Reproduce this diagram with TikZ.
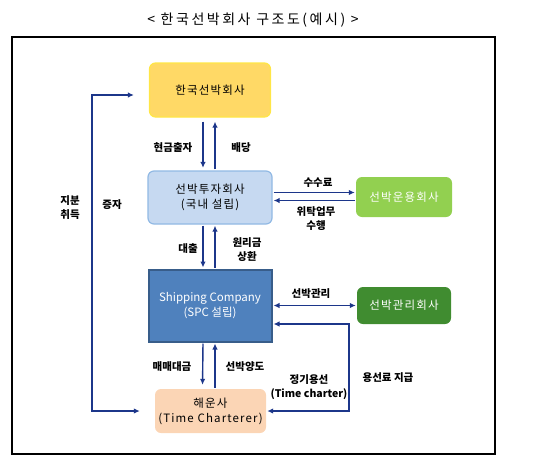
\documentclass[tikz,border=0pt]{standalone}
\usepackage{fontspec}
\setmainfont{Noto Sans CJK KR}
\newfontfamily\boxfont[LetterSpace=10]{Noto Sans CJK KR}
\newfontfamily\titlefont[LetterSpace=18]{Noto Sans CJK KR}
\usetikzlibrary{arrows.meta}
\definecolor{navy}{RGB}{28,54,138}
\definecolor{kfill}{RGB}{255,217,102}
\definecolor{kdraw}{RGB}{255,230,70}
\definecolor{invfill}{RGB}{198,217,241}
\definecolor{invdraw}{RGB}{145,185,228}
\definecolor{opsfill}{RGB}{146,208,80}
\definecolor{spcfill}{RGB}{79,129,189}
\definecolor{spcdraw}{RGB}{56,93,138}
\definecolor{mgfill}{RGB}{64,140,48}
\definecolor{haefill}{RGB}{251,213,181}
\begin{document}
\begin{tikzpicture}[x=1pt,y=-1pt,
  conn/.style={draw=navy, line width=1.4pt, -{Latex[length=6pt,width=5.5pt]}},
  conn2/.style={draw=navy, line width=1.4pt, {Latex[length=6pt,width=5.5pt]}-{Latex[length=6pt,width=5.5pt]}},
  boxbase/.style={inner sep=0pt, align=center, font=\boxfont\fontsize{11.5}{15}\selectfont},
  rbox/.style={boxbase, rounded corners=6pt},
  lbl/.style={inner sep=0pt, align=center, font=\fontsize{10.5}{14}\selectfont\bfseries}]
\useasboundingbox (0,0) rectangle (535,466);
\node[font=\titlefont\fontsize{14}{16}\selectfont, inner sep=0pt] (title) at (253,20) {< 한국선박회사 구조도(예시) >};
\draw[line width=1.1pt] (12,37) rectangle (495,454);
% boxes
\node[rbox, fill=kfill, draw=kdraw, line width=1.2pt, minimum width=121pt, minimum height=54pt] (k) at (210,90) {한국선박회사};
\node[rbox, fill=invfill, draw=invdraw, line width=1.2pt, minimum width=124pt, minimum height=53pt] (inv) at (210,197.5) {선박투자회사\\(국내 설립)};
\node[rbox, fill=opsfill, text=white, minimum width=96pt, minimum height=40pt] (ops) at (404,197) {선박운용회사};
\node[boxbase, font=\fontsize{11.5}{15}\selectfont, fill=spcfill, draw=spcdraw, line width=2pt, text=white, minimum width=123pt, minimum height=72pt] (spc) at (210,305.5) {Shipping Company\\(SPC 설립)};
\node[rbox, fill=mgfill, text=white, minimum width=94pt, minimum height=37pt] (mg) at (404,305.5) {선박관리회사};
\node[rbox, fill=haefill, minimum width=111pt, minimum height=44pt] (hae) at (210.5,411) {해운사\\(Time Charterer)};
% vertical arrows
\draw[conn, shorten <=4pt, shorten >=2.5pt] ([xshift=-7pt]k.south) -- ([xshift=-7pt]inv.north);
\draw[conn, shorten <=1pt, shorten >=4pt] ([xshift=5pt]inv.north) -- ([xshift=5pt]k.south);
\draw[conn, shorten <=1pt, shorten >=1pt] ([xshift=-7pt]inv.south) -- ([xshift=-7pt]spc.north);
\draw[conn, shorten <=1pt, shorten >=1pt] ([xshift=5pt]spc.north) -- ([xshift=5pt]inv.south);
\draw[conn, shorten <=1pt, shorten >=4pt] ([xshift=-7pt]spc.south) -- ([xshift=-7.5pt]spc.south |- hae.north);
\draw[conn, shorten <=1pt, shorten >=1pt] ([xshift=4.5pt]hae.north) -- ([xshift=4.5pt]hae.north |- spc.south);
% horizontal arrows
\draw[conn, shorten <=1pt, shorten >=1pt] ([yshift=5pt]inv.east) -- ([yshift=5pt]inv.east -| ops.west);
\draw[conn, shorten <=1pt, shorten >=1pt] ([yshift=-3pt]inv.east -| ops.west) -- ([yshift=-3pt]inv.east);
\draw[conn2, shorten <=1pt, shorten >=1pt] (spc.east) -- (mg.west);
\coordinate (c1) at (349,324);
\coordinate (c2) at (349,411);
\draw[conn2, shorten <=1pt, shorten >=1pt] ([yshift=-18.5pt]spc.east) -- (c1) -- (c2) -- (hae.east);
\coordinate (l1) at (92,95);
\coordinate (l2) at (92,411);
\draw[conn2, shorten <=15pt, shorten >=15pt] ([yshift=-5pt]k.west) -- ([yshift=-5pt]k.west -| l1) -- (l2) -- (hae.west);
% labels
\node[lbl] (t1) at (173,148) {현금출자};
\node[lbl] (t2) at (241,148) {배당};
\node[lbl] (t3) at (318,183) {수수료};
\node[lbl] (t4) at (316,219) {위탁업무\\수행};
\node[lbl] (t5) at (70,208) {지분\\취득};
\node[lbl] (t6) at (112,205) {증자};
\node[lbl] (t7) at (188,249) {대출};
\node[lbl] (t8) at (247,249.5) {원리금\\상환};
\node[lbl] (t9) at (311,294) {선박관리};
\node[lbl] (t10) at (172,367) {매매대금};
\node[lbl] (t11) at (245,367) {선박양도};
\node[lbl] (t12) at (309,387) {정기용선\\(Time charter)};
\node[lbl] (t13) at (388,378) {용선료 지급};
\end{tikzpicture}
\end{document}
